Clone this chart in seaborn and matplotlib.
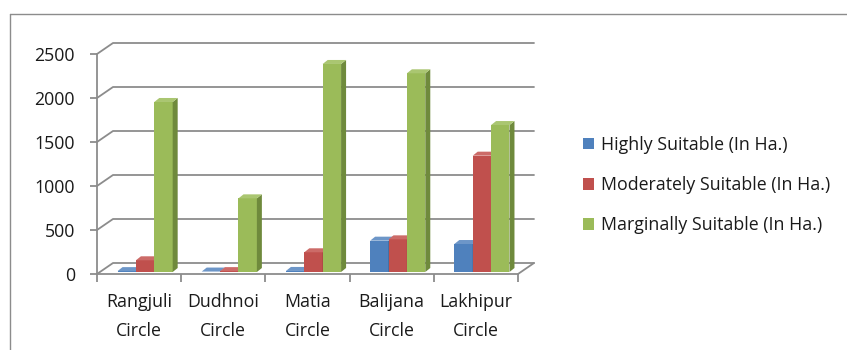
import matplotlib
matplotlib.use('Agg')
import matplotlib.pyplot as plt
from matplotlib.patches import Polygon, Patch
from matplotlib.lines import Line2D
import seaborn as sns
import pandas as pd

# Land suitability by revenue circle (hectares)
circles = ['Rangjuli\nCircle', 'Dudhnoi\nCircle', 'Matia\nCircle', 'Balijana\nCircle', 'Lakhipur\nCircle']
series = ['Highly Suitable (In Ha.)', 'Moderately Suitable (In Ha.)', 'Marginally Suitable (In Ha.)']
highly = [10, 5, 12, 356, 318]
moderately = [133, 10, 224, 371, 1322]
marginally = [1932, 837, 2364, 2258, 1670]
y_ticks = [0, 500, 1000, 1500, 2000, 2500]

front_cols = ['#4F81BD', '#C0504D', '#9BBB59']
side_cols = ['#3A5F8E', '#8E3B39', '#6F8A3C']
top_cols = ['#6D96C8', '#CC6B68', '#AAC671']
grid_col = '#8C8C8C'

df = pd.DataFrame({
    'circle': circles * 3,
    'series': [series[0]] * 5 + [series[1]] * 5 + [series[2]] * 5,
    'value': highly + moderately + marginally,
})

sns.set_theme(style='white')
plt.rcParams['font.family'] = ['Open Sans', 'DejaVu Sans']
FS = 12.8

W, H = 847, 350
fig = plt.figure(figsize=(W / 100, H / 100), dpi=100)
# front plane of the plot area, in pixels
x0, x1, y_base, y_top = 97, 518, 274, 54
ax = fig.add_axes([x0 / W, 1 - y_base / H, (x1 - x0) / W, (y_base - y_top) / H])

sns.barplot(data=df, x='circle', y='value', hue='series', palette=front_cols,
            saturation=1, width=0.655, linewidth=0, legend=False, ax=ax)
ax.set_xlim(-0.5, 4.5)
ax.set_ylim(0, 2500)

# pixel -> data conversion for the fake depth
ppx = (x1 - x0) / 5.0
ppy = (y_base - y_top) / 2500.0
def dxy(px, py):
    return px / ppx, py / ppy

bx, by = dxy(6, 2)        # bars sit a little behind the front plane
sx, sy = dxy(5, 4)        # bar depth
gx, gy = dxy(16, 11)      # back wall offset

# back wall gridlines and floor
for v in y_ticks:
    ax.plot([-0.5, -0.5 + gx, 4.5 + gx], [v, v + gy, v + gy], color=grid_col,
            lw=1.3, clip_on=False, zorder=1)
ax.plot([4.5, 4.5 + gx], [0, gy], color=grid_col, lw=1.3, clip_on=False, zorder=1)

# give the bars a 3D look
for i, p in enumerate(ax.patches):
    k = i // len(circles)
    p.set_x(p.get_x() + bx)
    p.set_y(by)
    p.set_zorder(3 + k)
    x, w, top = p.get_x(), p.get_width(), by + p.get_height()
    side = Polygon([(x + w, by), (x + w + sx, by + sy), (x + w + sx, top + sy), (x + w, top)],
                   closed=True, fc=side_cols[k], ec='none', zorder=3 + k, clip_on=False)
    cap = Polygon([(x, top), (x + w, top), (x + w + sx, top + sy), (x + sx, top + sy)],
                  closed=True, fc=top_cols[k], ec='none', zorder=3 + k, clip_on=False)
    ax.add_patch(side)
    ax.add_patch(cap)
    p.set_clip_on(False)

for s in ['top', 'right']:
    ax.spines[s].set_visible(False)
for s in ['left', 'bottom']:
    ax.spines[s].set_color(grid_col)
    ax.spines[s].set_linewidth(1.3)

ax.set_xlabel('')
ax.set_ylabel('')
ax.set_yticks(y_ticks)
ax.set_yticklabels([str(v) for v in y_ticks], fontsize=FS, color='#1a1a1a')
ax.tick_params(axis='y', left=True, length=5, width=1.3, color=grid_col, pad=11)
ax.set_xticks(range(len(circles)))
ax.set_xticklabels(circles, fontsize=FS, color='#1a1a1a', linespacing=1.78)
ax.tick_params(axis='x', which='major', length=0, pad=14)
ax.set_xticks([i - 0.5 for i in range(len(circles) + 1)], minor=True)
ax.tick_params(axis='x', which='minor', bottom=True, length=6, width=1.3, color=grid_col)
ax.grid(False)

handles = [Patch(fc=c, ec='none') for c in front_cols]
fig.legend(handles, series, loc='center left', bbox_to_anchor=(583 / W, 1 - 185 / H),
           frameon=False, fontsize=FS, labelcolor='#1a1a1a', handlelength=0.62, handleheight=0.62,
           handletextpad=0.4, labelspacing=1.25, borderpad=0, borderaxespad=0)

# chart area border (only top and left edges visible)
fig.add_artist(Line2D([10 / W, 1], [1 - 14 / H] * 2, transform=fig.transFigure, color='#8C8C8C', lw=1))
fig.add_artist(Line2D([10 / W] * 2, [0, 1 - 14 / H], transform=fig.transFigure, color='#8C8C8C', lw=1))

fig.savefig('out.png', dpi=100)
